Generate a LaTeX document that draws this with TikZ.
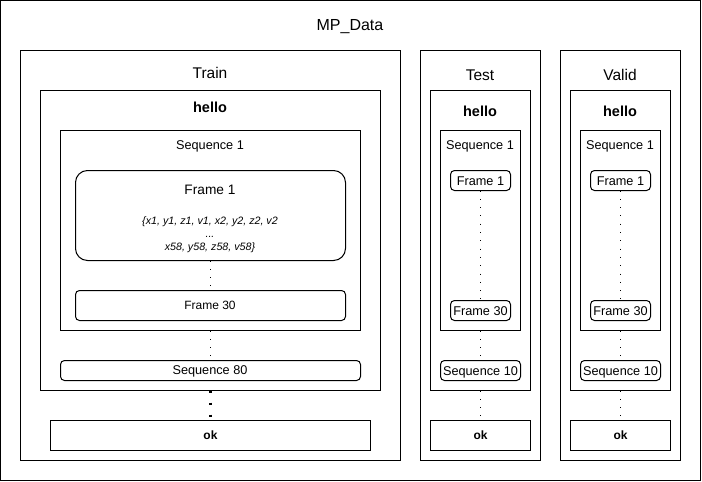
\documentclass[tikz,border=0pt]{standalone}
\usepackage{fontspec}
\setmainfont{Liberation Sans}
\usetikzlibrary{fit}
\begin{document}
\begin{tikzpicture}[x=1pt,y=-1pt,
  box/.style={draw, line width=1pt, rectangle, inner sep=0pt, outer sep=0pt},
  rbox/.style={box, rounded corners=4pt},
  bigrbox/.style={box, rounded corners=12pt},
  lbl/.style={inner sep=0pt, anchor=base, font=\fontsize{12.7}{14}\selectfont},
  inlbl/.style={inner sep=0pt, text height=9pt, text depth=0pt, font=\fontsize{12.7}{14}\selectfont},
  title/.style={inner sep=0pt, anchor=base, font=\fontsize{15.5}{18}\selectfont},
  boldlbl/.style={inner sep=0pt, anchor=base, font=\bfseries\fontsize{14.5}{16}\selectfont},
  oklbl/.style={inner sep=0pt, text height=8.7pt, text depth=0pt, font=\bfseries\fontsize{12}{14}\selectfont},
  dotline/.style={line width=1pt, dash pattern=on 1pt off 7.3pt},
  thickdot/.style={line width=2.6pt, dash pattern=on 2.6pt off 9.4pt}]
\useasboundingbox (0,0) rectangle (702,482);
% outer
\node[box, fit={(0.5,0.5) (700.5,480.5)}] (mp) {};
\node[inner sep=0pt, anchor=base, font=\fontsize{16}{18}\selectfont] (mplbl) at (350,30.7) {MP\_Data};
% Train
\node[box, fit={(20.5,50.5) (400.5,460.5)}] (train) {};
\node[title] (trainlbl) at (210,78.5) {Train};
\node[box, fit={(40.5,90.5) (380.5,390.5)}] (trhello) {};
\node[boldlbl] (trhellolbl) at (210,112) {hello};
\node[box, fit={(60.5,130.5) (360.5,330.5)}] (trseq) {};
\node[lbl] (trseqlbl) at (210,149.8) {Sequence 1};
\node[bigrbox, fit={(75.5,170.5) (345.5,260.5)}] (trf1) {};
\node[inner sep=0pt, anchor=base, font=\fontsize{13.7}{16}\selectfont] (trf1lbl) at (210,194) {Frame 1};
\node[inner sep=0pt, align=center, font=\itshape\fontsize{10.7}{13}\selectfont] (trf1data) at (210,235)
  {\{x1, y1, z1, v1, x2, y2, z2, v2\\...\\x58, y58, z58, v58\}};
\node[rbox, fit={(75.5,290.5) (345.5,320.5)}] (trf30) {};
\node[inner sep=0pt, anchor=base, font=\fontsize{12}{14}\selectfont] (trf30lbl) at (210,309.5) {Frame 30};
\node[rbox, fit={(60.5,360.5) (360.5,380.5)}] (trseq80) {};
\node[lbl] (trseq80lbl) at (210,374.8) {Sequence 80};
\node[box, fit={(50.5,420.5) (370.5,450.5)}] (trok) {};
\node[oklbl] (troklbl) at (210.5,435.5) {ok};
\draw[dotline] (trf1.south) -- (trf30.north);
\draw[dotline] (trseq.south) -- (trseq80.north);
\draw[thickdot] (trhello.south) -- (trok.north);
% Test and Valid
\foreach \n/\dx/\lab in {te/0/Test, va/140/Valid}{
  \begin{scope}[xshift=\dx pt]
  \node[box, fit={(420.5,50.5) (540.5,460.5)}] (\n box) {};
  \node[title] (\n lbl) at (480,80.5) {\lab};
  \node[box, fit={(430.5,90.5) (530.5,390.5)}] (\n hello) {};
  \node[boldlbl] (\n hellolbl) at (480,116) {hello};
  \node[box, fit={(440.5,130.5) (520.5,330.5)}] (\n seq) {};
  \node[lbl] (\n seqlbl) at (480,149.8) {Sequence 1};
  \node[rbox, inlbl, minimum width=60pt, minimum height=20pt] (\n f1) at (480.5,180.5) {Frame 1};
  \node[rbox, inlbl, minimum width=60pt, minimum height=20pt] (\n f30) at (480.5,310.5) {Frame 30};
  \node[rbox, inlbl, minimum width=80pt, minimum height=20pt] (\n seq10) at (480.5,370.5) {Sequence 10};
  \node[box, oklbl, minimum width=100pt, minimum height=30pt] (\n ok) at (480.5,435.5) {ok};
  \draw[dotline] (\n f1.south) -- (\n f30.north);
  \draw[dotline] (\n seq.south) -- (\n seq10.north);
  \draw[dotline] (\n hello.south) -- (\n ok.north);
  \end{scope}
}
\end{tikzpicture}
\end{document}
